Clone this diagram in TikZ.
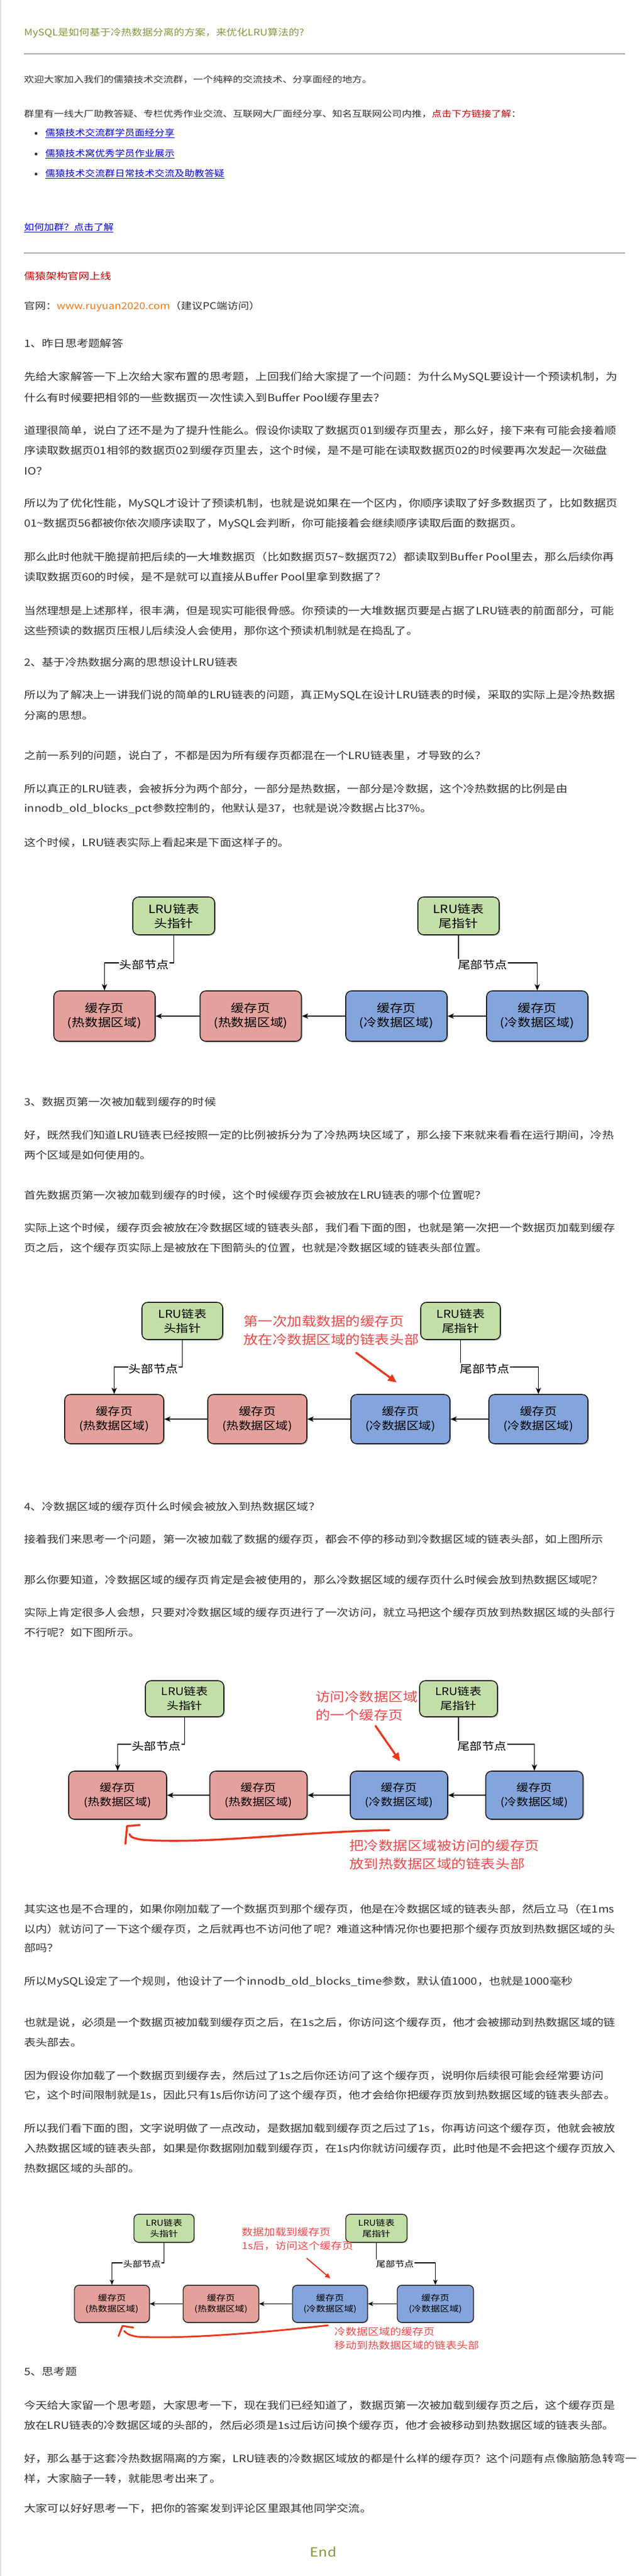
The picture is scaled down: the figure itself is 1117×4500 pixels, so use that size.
\documentclass[tikz,border=0pt]{standalone}
\usepackage{fontspec}
\usetikzlibrary{arrows.meta,calc,shadows}
\newfontfamily\cjk[FakeStretch=1.15]{Noto Sans CJK SC}
\newcommand\myfs[2]{\fontsize{#1}{#2}\selectfont}
\definecolor{txtc}{HTML}{333333}
\definecolor{olivec}{HTML}{7D9B3A}
\definecolor{linkc}{HTML}{0000EE}
\definecolor{darkredc}{HTML}{CC0000}
\definecolor{orangec}{HTML}{EE7A1E}
\definecolor{hrc}{HTML}{A8A8A8}
\definecolor{greenf}{HTML}{C3DFA7}
\definecolor{hotf}{HTML}{E4A19C}
\definecolor{coldf}{HTML}{84A5DC}
\definecolor{edgec}{HTML}{1A1A1A}
\definecolor{annotc}{HTML}{F04848}
\definecolor{penred}{HTML}{E8381F}
\begin{document}
\begin{tikzpicture}[x=1pt,y=-1pt,
  line/.style={anchor=west, inner sep=0pt, text=txtc},
  title/.style={line, text=olivec, font={\cjk\myfs{16}{16}}},
  intro/.style={line, font={\cjk\myfs{15.1}{15.1}}},
  site/.style={line, font={\cjk\myfs{16.5}{16.5}}},
  body/.style={line, font={\cjk\myfs{17.6}{17.6}}},
  hr/.style={draw=hrc, line width=1.6pt},
  bullet/.style={circle, fill=txtc, inner sep=0pt, minimum size=5pt},
  dfont/.style={font={\cjk\myfs{19.8}{25}}},
  efont/.style={font={\cjk\myfs{18.7}{19}}},
  afont/.style={font={\cjk\myfs{22.2}{32}}},
  rc/.style={rounded corners=10pt},
  box/.style={draw=edgec, line width=1.6pt, rc, align=center, inner sep=0pt, text=black, dfont,
    drop shadow={shadow xshift=2pt, shadow yshift=-2pt, opacity=0.22, fill=black}},
  gbox/.style={box, fill=greenf},
  hbox/.style={box, fill=hotf},
  cbox/.style={box, fill=coldf},
  conn/.style={draw=black, line width=1.5pt, -{Stealth[length=11pt,width=9pt,inset=3pt]}},
  elabel/.style={fill=white, inner sep=1pt, text=black, efont},
  annot/.style={anchor=west, inner sep=0pt, text=annotc, afont, align=left},
  penarrow/.style={draw=penred, line width=3.5pt, line cap=round, -{Triangle[length=15pt,width=13pt]}},
  penstroke/.style={draw=penred, line width=3.5pt, line cap=round, line join=round}
]
\fill[white] (0,0) rectangle (1117,4500);
\useasboundingbox (0,0) rectangle (1117,4500);
\draw[draw=black!12, line width=1.5pt] (1,0) -- (1,4500);

% ---------- header ----------
\node[title] (title) at (42,58) {MySQL是如何基于冷热数据分离的方案，来优化LRU算法的?};
\coordinate (hr1a) at (42,94); \coordinate (hr1b) at (1092,94);
\draw[hr] (hr1a) -- (hr1b);
\node[intro] (i1) at (42,139) {欢迎大家加入我们的儒猿技术交流群，一个纯粹的交流技术、分享面经的地方。};
\node[intro] (i2) at (42,199) {群里有一线大厂助教答疑、专栏优秀作业交流、互联网大厂面经分享、知名互联网公司内推，\textcolor{darkredc}{点击下方链接了解}：};
\node[bullet] (bu1) at (63,233) {};
\node[bullet] (bu2) at (63,269) {};
\node[bullet] (bu3) at (63,304) {};
\node[intro, text=linkc] (l1) at (79,233) {\underline{儒猿技术交流群学员面经分享}};
\node[intro, text=linkc] (l2) at (79,269) {\underline{儒猿技术窝优秀学员作业展示}};
\node[intro, text=linkc] (l3) at (79,304) {\underline{儒猿技术交流群日常技术交流及助教答疑}};
\node[intro, text=linkc] (l4) at (42,398) {\underline{如何加群？点击了解}};
\coordinate (hr2a) at (42,442); \coordinate (hr2b) at (1092,442);
\draw[hr] (hr2a) -- (hr2b);
\node[site, text=darkredc] (s1) at (42,482) {儒猿架构官网上线};
\node[site] (s2) at (42,535) {官网：\textcolor{orangec}{www.ruyuan2020.com}（建议PC端访问）};

% ---------- section 1 ----------
\node[body] (h1) at (42,600) {1、昨日思考题解答};
\node[body] (p01) at (42,659) {先给大家解答一下上次给大家布置的思考题，上回我们给大家提了一个问题：为什么MySQL要设计一个预读机制，为};
\node[body] (p02) at (42,695) {什么有时候要把相邻的一些数据页一次性读入到Buffer Pool缓存里去？};
\node[body] (p03) at (42,752) {道理很简单，说白了还不是为了提升性能么。假设你读取了数据页01到缓存页里去，那么好，接下来有可能会接着顺};
\node[body] (p04) at (42,787) {序读取数据页01相邻的数据页02到缓存页里去，这个时候，是不是可能在读取数据页02的时候要再次发起一次磁盘};
\node[body] (p05) at (42,823) {IO？};
\node[body] (p06) at (42,880) {所以为了优化性能，MySQL才设计了预读机制，也就是说如果在一个区内，你顺序读取了好多数据页了，比如数据页};
\node[body] (p07) at (42,915) {01\textasciitilde 数据页56都被你依次顺序读取了，MySQL会判断，你可能接着会继续顺序读取后面的数据页。};
\node[body] (p08) at (42,973) {那么此时他就干脆提前把后续的一大堆数据页（比如数据页57\textasciitilde 数据页72）都读取到Buffer Pool里去，那么后续你再};
\node[body] (p09) at (42,1008) {读取数据页60的时候，是不是就可以直接从Buffer Pool里拿到数据了？};
\node[body] (p10) at (42,1067) {当然理想是上述那样，很丰满，但是现实可能很骨感。你预读的一大堆数据页要是占据了LRU链表的前面部分，可能};
\node[body] (p11) at (42,1102) {这些预读的数据页压根儿后续没人会使用，那你这个预读机制就是在捣乱了。};

% ---------- section 2 ----------
\node[body] (h2) at (42,1157) {2、基于冷热数据分离的思想设计LRU链表};
\node[body] (p12) at (42,1215) {所以为了解决上一讲我们说的简单的LRU链表的问题，真正MySQL在设计LRU链表的时候，采取的实际上是冷热数据};
\node[body] (p13) at (42,1250) {分离的思想。};
\node[body] (p14) at (42,1320) {之前一系列的问题，说白了，不都是因为所有缓存页都混在一个LRU链表里，才导致的么？};
\node[body] (p15) at (42,1378) {所以真正的LRU链表，会被拆分为两个部分，一部分是热数据，一部分是冷数据，这个冷热数据的比例是由};
\node[body] (p16) at (42,1413) {innodb\_old\_blocks\_pct参数控制的，他默认是37，也就是说冷数据占比37\%。};
\node[body] (p17) at (42,1472) {这个时候，LRU链表实际上看起来是下面这样子的。};

% ---------- diagram 1 ----------
\begin{scope}
\node[gbox, minimum width=143pt, minimum height=66pt] (d1g1) at (303.5,1600) {LRU链表\\头指针};
\node[gbox, minimum width=142pt, minimum height=66pt] (d1g2) at (801,1600) {LRU链表\\尾指针};
\node[hbox, minimum width=177pt, minimum height=88pt] (d1b1) at (182.5,1775) {缓存页\\(热数据区域)};
\node[hbox, minimum width=177pt, minimum height=88pt] (d1b2) at (438,1775) {缓存页\\(热数据区域)};
\node[cbox, minimum width=177pt, minimum height=88pt] (d1b3) at (692.5,1775) {缓存页\\(冷数据区域)};
\node[cbox, minimum width=177pt, minimum height=88pt] (d1b4) at (938.5,1775) {缓存页\\(冷数据区域)};
\coordinate (d1y) at (0,1682);
\draw[conn] (d1g1.south) -- (d1g1.south |- d1y) -| (d1b1.north);
\draw[conn] (d1g2.south) -- (d1g2.south |- d1y) -| (d1b4.north);
\draw[conn] (d1b4.west) -- (d1b3.east);
\draw[conn] (d1b3.west) -- (d1b2.east);
\draw[conn] (d1b2.west) -- (d1b1.east);
\node[elabel] (d1l1) at (252,1685) {头部节点};
\node[elabel] (d1l2) at (843,1685) {尾部节点};
\end{scope}

% ---------- section 3 ----------
\node[body] (h3) at (42,1925) {3、数据页第一次被加载到缓存的时候};
\node[body] (p18) at (42,1983) {好，既然我们知道LRU链表已经按照一定的比例被拆分为了冷热两块区域了，那么接下来就来看看在运行期间，冷热};
\node[body] (p19) at (42,2018) {两个区域是如何使用的。};
\node[body] (p20) at (42,2088) {首先数据页第一次被加载到缓存的时候，这个时候缓存页会被放在LRU链表的哪个位置呢？};
\node[body] (p21) at (42,2145) {实际上这个时候，缓存页会被放在冷数据区域的链表头部，我们看下面的图，也就是第一次把一个数据页加载到缓存};
\node[body] (p22) at (42,2180) {页之后，这个缓存页实际上是被放在下图箭头的位置，也就是冷数据区域的链表头部位置。};

% ---------- diagram 2 ----------
\begin{scope}[dfont/.style={font={\cjk\myfs{18.8}{25}}}, efont/.style={font={\cjk\myfs{18.8}{19}}}]
\node[gbox, minimum width=141pt, minimum height=65pt] (d2g1) at (318.5,2307.5) {LRU链表\\头指针};
\node[gbox, minimum width=139pt, minimum height=65pt] (d2g2) at (804.5,2307.5) {LRU链表\\尾指针};
\node[hbox, minimum width=173pt, minimum height=86pt] (d2b1) at (199.5,2479) {缓存页\\(热数据区域)};
\node[hbox, minimum width=173pt, minimum height=86pt] (d2b2) at (449.5,2479) {缓存页\\(热数据区域)};
\node[cbox, minimum width=173pt, minimum height=86pt] (d2b3) at (699.5,2479) {缓存页\\(冷数据区域)};
\node[cbox, minimum width=173pt, minimum height=86pt] (d2b4) at (940.5,2479) {缓存页\\(冷数据区域)};
\coordinate (d2y) at (0,2388);
\draw[conn] (d2g1.south) -- (d2g1.south |- d2y) -| (d2b1.north);
\draw[conn] (d2g2.south) -- (d2g2.south |- d2y) -| (d2b4.north);
\draw[conn] (d2b4.west) -- (d2b3.east);
\draw[conn] (d2b3.west) -- (d2b2.east);
\draw[conn] (d2b2.west) -- (d2b1.east);
\node[elabel] (d2l1) at (268,2391) {头部节点};
\node[elabel] (d2l2) at (847,2391) {尾部节点};
\node[annot] (d2t) at (425,2324) {第一次加载数据的缓存页\\放在冷数据区域的链表头部};
\coordinate (d2a1) at (622,2363); \coordinate (d2a2) at (693,2415);
\draw[penarrow] (d2a1) -- (d2a2);
\end{scope}

% ---------- section 4 ----------
\node[body] (h4) at (42,2632) {4、冷数据区域的缓存页什么时候会被放入到热数据区域？};
\node[body] (p23) at (42,2689) {接着我们来思考一个问题，第一次被加载了数据的缓存页，都会不停的移动到冷数据区域的链表头部，如上图所示};
\node[body] (p24) at (42,2760) {那么你要知道，冷数据区域的缓存页肯定是会被使用的，那么冷数据区域的缓存页什么时候会放到热数据区域呢？};
\node[body] (p25) at (42,2817) {实际上肯定很多人会想，只要对冷数据区域的缓存页进行了一次访问，就立马把这个缓存页放到热数据区域的头部行};
\node[body] (p26) at (42,2852) {不行呢？如下图所示。};

% ---------- diagram 3 ----------
\begin{scope}[dfont/.style={font={\cjk\myfs{18.2}{25}}}, efont/.style={font={\cjk\myfs{18.5}{19}}}]
\node[gbox, minimum width=137pt, minimum height=63pt] (d3g1) at (322.5,2967.5) {LRU链表\\头指针};
\node[gbox, minimum width=136pt, minimum height=63pt] (d3g2) at (801,2967.5) {LRU链表\\尾指针};
\node[hbox, minimum width=171pt, minimum height=84pt] (d3b1) at (205.5,3136) {缓存页\\(热数据区域)};
\node[hbox, minimum width=170pt, minimum height=84pt] (d3b2) at (451.5,3136) {缓存页\\(热数据区域)};
\node[cbox, minimum width=170pt, minimum height=84pt] (d3b3) at (697,3136) {缓存页\\(冷数据区域)};
\node[cbox, minimum width=170pt, minimum height=84pt] (d3b4) at (933.5,3136) {缓存页\\(冷数据区域)};
\coordinate (d3y) at (0,3047);
\draw[conn] (d3g1.south) -- (d3g1.south |- d3y) -| (d3b1.north);
\draw[conn] (d3g2.south) -- (d3g2.south |- d3y) -| (d3b4.north);
\draw[conn] (d3b4.west) -- (d3b3.east);
\draw[conn] (d3b3.west) -- (d3b2.east);
\draw[conn] (d3b2.west) -- (d3b1.east);
\node[elabel] (d3l1) at (273,3050) {头部节点};
\node[elabel] (d3l2) at (842,3050) {尾部节点};
\node[annot] (d3t1) at (551,2980.5) {访问冷数据区域\\的一个缓存页};
\coordinate (d3a1) at (656,3015); \coordinate (d3a2) at (699,3077);
\draw[penarrow] (d3a1) -- (d3a2);
\coordinate (d3c1) at (680,3197); \coordinate (d3c2) at (226,3204);
\coordinate (d3c3) at (222,3190); \coordinate (d3c4) at (219,3221); \coordinate (d3c5) at (244,3188);
\draw[penstroke] (d3c1) .. controls (520,3200) and (360,3222) .. (250,3214) .. controls (236,3212) and (228,3210) .. (d3c2);
\draw[penstroke] (d3c3) -- (d3c4);
\draw[penstroke] (d3c3) -- (d3c5);
\node[annot] (d3t2) at (610,3240.5) {把冷数据区域被访问的缓存页\\放到热数据区域的链表头部};
\end{scope}

% ---------- text ----------
\node[body] (p27) at (42,3335) {其实这也是不合理的，如果你刚加载了一个数据页到那个缓存页，他是在冷数据区域的链表头部，然后立马（在1ms};
\node[body] (p28) at (42,3370) {以内）就访问了一下这个缓存页，之后就再也不访问他了呢？难道这种情况你也要把那个缓存页放到热数据区域的头};
\node[body] (p29) at (42,3403) {部吗？};
\node[body] (p30) at (42,3462) {所以MySQL设定了一个规则，他设计了一个innodb\_old\_blocks\_time参数，默认值1000，也就是1000毫秒};
\node[body] (p31) at (42,3533) {也就是说，必须是一个数据页被加载到缓存页之后，在1s之后，你访问这个缓存页，他才会被挪动到热数据区域的链};
\node[body] (p32) at (42,3568) {表头部去。};
\node[body] (p33) at (42,3626) {因为假设你加载了一个数据页到缓存去，然后过了1s之后你还访问了这个缓存页，说明你后续很可能会经常要访问};
\node[body] (p34) at (42,3660) {它，这个时间限制就是1s，因此只有1s后你访问了这个缓存页，他才会给你把缓存页放到热数据区域的链表头部去。};
\node[body] (p35) at (42,3718) {所以我们看下面的图，文字说明做了一点改动，是数据加载到缓存页之后过了1s，你再访问这个缓存页，他就会被放};
\node[body] (p36) at (42,3753) {入热数据区域的链表头部，如果是你数据刚加载到缓存页，在1s内你就访问缓存页，此时他是不会把这个缓存页放入};
\node[body] (p37) at (42,3788) {热数据区域的头部的。};

% ---------- diagram 4 ----------
\begin{scope}[dfont/.style={font={\cjk\myfs{14.2}{18.5}}}, efont/.style={font={\cjk\myfs{14.3}{15}}},
  afont/.style={font={\cjk\myfs{16.9}{24}}}, rc/.style={rounded corners=8pt},
  conn/.style={draw=black, line width=1.3pt, -{Stealth[length=9pt,width=7.5pt,inset=2.5pt]}},
  box/.style={draw=edgec, line width=1.4pt, rc, align=center, inner sep=0pt, text=black, dfont,
    drop shadow={shadow xshift=1.5pt, shadow yshift=-1.5pt, opacity=0.22, fill=black}}]
\node[gbox, minimum width=105pt, minimum height=49pt] (d4g1) at (286.5,3892.5) {LRU链表\\头指针};
\node[gbox, minimum width=107pt, minimum height=49pt] (d4g2) at (657.5,3892.5) {LRU链表\\尾指针};
\node[hbox, minimum width=131pt, minimum height=65pt] (d4b1) at (195.5,4024.5) {缓存页\\(热数据区域)};
\node[hbox, minimum width=132pt, minimum height=65pt] (d4b2) at (386,4024.5) {缓存页\\(热数据区域)};
\node[cbox, minimum width=131pt, minimum height=65pt] (d4b3) at (576.5,4024.5) {缓存页\\(冷数据区域)};
\node[cbox, minimum width=133pt, minimum height=65pt] (d4b4) at (760.5,4024.5) {缓存页\\(冷数据区域)};
\coordinate (d4y) at (0,3953);
\draw[conn] (d4g1.south) -- (d4g1.south |- d4y) -| (d4b1.north);
\draw[conn] (d4g2.south) -- (d4g2.south |- d4y) -| (d4b4.north);
\draw[conn] (d4b4.west) -- (d4b3.east);
\draw[conn] (d4b3.west) -- (d4b2.east);
\draw[conn] (d4b2.west) -- (d4b1.east);
\node[elabel] (d4l1) at (248,3955) {头部节点};
\node[elabel] (d4l2) at (690,3955) {尾部节点};
\node[annot] (d4t1) at (422,3911) {数据加载到缓存页\\1s后，访问这个缓存页};
\coordinate (d4a1) at (536,3945); \coordinate (d4a2) at (577,3980);
\draw[penarrow, line width=2pt, -{Triangle[length=9pt,width=8pt]}] (d4a1) -- (d4a2);
\coordinate (d4c1) at (573,4062); \coordinate (d4c2) at (217,4072);
\coordinate (d4c3) at (214,4063); \coordinate (d4c4) at (207,4081); \coordinate (d4c5) at (233,4066);
\draw[penstroke, line width=3pt] (d4c1) .. controls (450,4076) and (320,4086) .. (240,4082) .. controls (228,4080) and (221,4077) .. (d4c2);
\draw[penstroke, line width=3pt] (d4c3) -- (d4c4);
\draw[penstroke, line width=3pt] (d4c3) -- (d4c5);
\node[annot] (d4t2) at (584,4085) {冷数据区域的缓存页\\移动到热数据区域的链表头部};
\end{scope}

% ---------- section 5 ----------
\node[body] (h5) at (42,4143) {5、思考题};
\node[body] (p38) at (42,4202) {今天给大家留一个思考题，大家思考一下，现在我们已经知道了，数据页第一次被加载到缓存页之后，这个缓存页是};
\node[body] (p39) at (42,4237) {放在LRU链表的冷数据区域的头部的，然后必须是1s过后访问换个缓存页，他才会被移动到热数据区域的链表头部。};
\node[body] (p40) at (42,4295) {好，那么基于这套冷热数据隔离的方案，LRU链表的冷数据区域放的都是什么样的缓存页？这个问题有点像脑筋急转弯一};
\node[body] (p41) at (42,4330) {样，大家脑子一转，就能思考出来了。};
\node[body] (p42) at (42,4382) {大家可以好好思考一下，把你的答案发到评论区里跟其他同学交流。};
\node[inner sep=0pt, text=olivec, font={\cjk\myfs{22}{22}}] (endt) at (565,4458) {End};
\end{tikzpicture}
\end{document}
